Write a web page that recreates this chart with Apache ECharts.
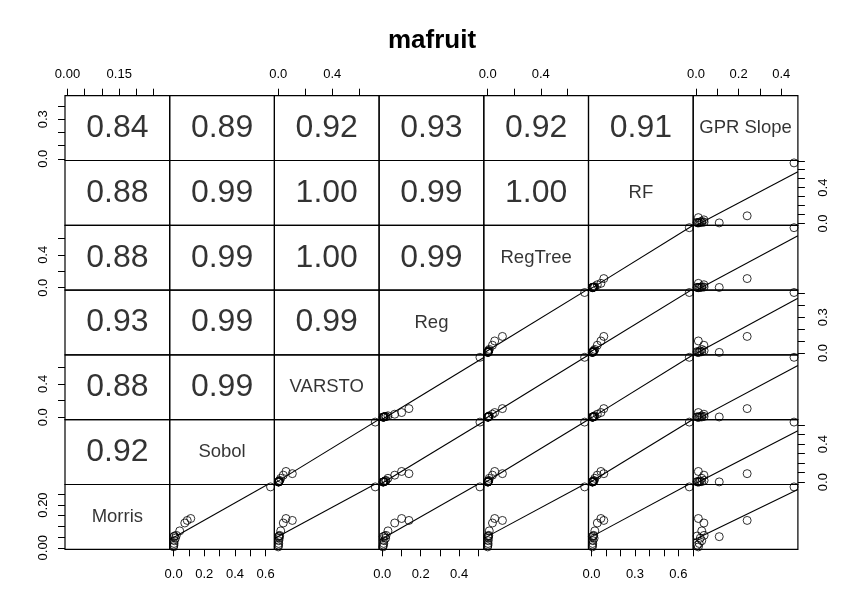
<!DOCTYPE html>
<html><head><meta charset="utf-8">
<script src="https://cdn.jsdelivr.net/npm/echarts@6/dist/echarts.min.js"></script>
<style>html,body{margin:0;padding:0;background:#fff}#c{width:864px;height:615px}</style>
</head><body><div id="c"></div>
<script>
// ---- data ----
const varNames = ['Morris', 'Sobol', 'VARSTO', 'Reg', 'RegTree', 'RF', 'GPR Slope'];
const morris  = [0.285, 0.128, 0.052, 0.137, 0.116, 0.079, 0.058, 0.055, 0.033, 0.004, 0.045, 0.020, 0.012];
const sobol   = [0.632, 0.089, 0.002, 0.112, 0.073, 0.040, 0.018, 0.006, 0.005, 0.000, 0.012, 0.003, 0.002];
const varsto  = [0.718, 0.104, 0.004, 0.057, 0.037, 0.018, 0.010, 0.006, 0.004, 0.000, 0.008, 0.003, 0.002];
const reg     = [0.508, 0.139, 0.005, 0.101, 0.065, 0.030, 0.020, 0.012, 0.010, 0.004, 0.018, 0.008, 0.006];
const regtree = [0.730, 0.111, 0.003, 0.053, 0.036, 0.012, 0.008, 0.005, 0.004, 0.000, 0.006, 0.003, 0.002];
const rf      = [0.676, 0.085, 0.006, 0.065, 0.040, 0.023, 0.015, 0.012, 0.010, 0.006, 0.018, 0.008, 0.007];
const gpr     = [0.460, 0.240, 0.109, 0.011, 0.037, 0.027, 0.038, 0.005, 0.027, 0.011, 0.020, 0.015, 0.006];

// correlation text, row r (top to bottom), columns 0..5-r
const corrRow0 = ['0.84', '0.89', '0.92', '0.93', '0.92', '0.91'];
const corrRow1 = ['0.88', '0.99', '1.00', '0.99', '1.00'];
const corrRow2 = ['0.88', '0.99', '1.00', '0.99'];
const corrRow3 = ['0.93', '0.99', '0.99'];
const corrRow4 = ['0.88', '0.99'];
const corrRow5 = ['0.92'];

// tick values per variable
const ticksMorris  = [0, 0.05, 0.10, 0.15, 0.20, 0.25];
const ticksSobol   = [0, 0.1, 0.2, 0.3, 0.4, 0.5, 0.6];
const ticksVarsto  = [0, 0.2, 0.4, 0.6];
const ticksReg     = [0, 0.1, 0.2, 0.3, 0.4, 0.5];
const ticksRegTree = [0, 0.2, 0.4, 0.6];
const ticksRF      = [0, 0.1, 0.2, 0.3, 0.4, 0.5, 0.6, 0.7];
const ticksGPR     = [0, 0.1, 0.2, 0.3, 0.4];
// labelled ticks on horizontal (top/bottom) axes
const xLabMorris = [0, 0.15], xLabSobol = [0, 0.2, 0.4, 0.6], xLabVarsto = [0, 0.4],
      xLabReg = [0, 0.2, 0.4], xLabRegTree = [0, 0.4], xLabRF = [0, 0.3, 0.6], xLabGPR = [0, 0.2, 0.4];
// labelled ticks on vertical (left/right) axes
const yLabMorris = [0, 0.20], yLabSobol = [0, 0.4], yLabVarsto = [0, 0.4],
      yLabReg = [0, 0.3], yLabRegTree = [0, 0.4], yLabRF = [0, 0.4], yLabGPR = [0, 0.3];
const labelDecimals = [2, 1, 1, 1, 1, 1, 1];

// ---- assembly ----
const vars = [morris, sobol, varsto, reg, regtree, rf, gpr];
const ticks = [ticksMorris, ticksSobol, ticksVarsto, ticksReg, ticksRegTree, ticksRF, ticksGPR];
const xLabs = [xLabMorris, xLabSobol, xLabVarsto, xLabReg, xLabRegTree, xLabRF, xLabGPR];
const yLabs = [yLabMorris, yLabSobol, yLabVarsto, yLabReg, yLabRegTree, yLabRF, yLabGPR];
const corr = [corrRow0, corrRow1, corrRow2, corrRow3, corrRow4, corrRow5];

const N = 7;
const L0 = 65, T0 = 95.7, CW = 104.7, CH = 64.8;
const FONT = '"Liberation Sans", Arial, Helvetica, sans-serif';

const ranges = vars.map(v => {
  const mn = Math.min(...v), mx = Math.max(...v), d = mx - mn;
  return [mn - 0.04 * d, mx + 0.04 * d];
});

function lm(x, y) {
  const n = x.length;
  const mx = x.reduce((a, b) => a + b, 0) / n, my = y.reduce((a, b) => a + b, 0) / n;
  let sxy = 0, sxx = 0;
  for (let i = 0; i < n; i++) { sxy += (x[i] - mx) * (y[i] - my); sxx += (x[i] - mx) ** 2; }
  const b = sxy / sxx;
  return [my - b * mx, b];
}

const grids = [], xAxes = [], yAxes = [], series = [];
let gi = 0;
for (let r = 0; r < N; r++) {
  for (let c = 0; c < N; c++) {
    const xv = c, yv = N - 1 - r;
    grids.push({
      left: L0 + c * CW, top: T0 + r * CH, width: CW, height: CH,
      show: true, borderColor: '#000', borderWidth: 1.2, backgroundColor: 'transparent'
    });
    const showX = (r === 0 && c % 2 === 0) || (r === N - 1 && c % 2 === 1);
    const showY = (c === 0 && r % 2 === 0) || (c === N - 1 && r % 2 === 1);
    const decX = labelDecimals[xv], decY = labelDecimals[yv];
    xAxes.push({
      gridIndex: gi, type: 'value', min: ranges[xv][0], max: ranges[xv][1],
      position: r === 0 ? 'top' : 'bottom', show: showX,
      axisLine: { show: false, onZero: false }, splitLine: { show: false },
      axisTick: { show: true, inside: false, length: 7, customValues: ticks[xv], lineStyle: { color: '#000', width: 1 } },
      axisLabel: { show: true, customValues: xLabs[xv], margin: r === 0 ? 15 : 19, color: '#000',
        fontSize: 13, fontFamily: FONT, formatter: v => Number(v).toFixed(decX) }
    });
    yAxes.push({
      gridIndex: gi, type: 'value', min: ranges[yv][0], max: ranges[yv][1],
      position: c === 0 ? 'left' : 'right', show: showY,
      axisLine: { show: false, onZero: false }, splitLine: { show: false },
      axisTick: { show: true, inside: false, length: 7, customValues: ticks[yv], lineStyle: { color: '#000', width: 1 } },
      axisLabel: { show: true, customValues: yLabs[yv], rotate: 90, margin: c === 0 ? 15 : 19, color: '#000',
        fontSize: 13, fontFamily: FONT, formatter: v => Number(v).toFixed(decY) }
    });
    const xmid = (ranges[xv][0] + ranges[xv][1]) / 2, ymid = (ranges[yv][0] + ranges[yv][1]) / 2;
    if (r + c <= N - 2) {
      series.push({
        type: 'scatter', xAxisIndex: gi, yAxisIndex: gi, silent: true,
        data: [[xmid, ymid]], symbol: 'circle', symbolSize: 1,
        itemStyle: { color: 'rgba(0,0,0,0)' },
        label: { show: true, position: 'inside', formatter: corr[r][c], color: '#000', fontSize: 32, fontFamily: FONT }
      });
    } else if (r + c === N - 1) {
      series.push({
        type: 'scatter', xAxisIndex: gi, yAxisIndex: gi, silent: true,
        data: [[xmid, ymid]], symbol: 'circle', symbolSize: 1,
        itemStyle: { color: 'rgba(0,0,0,0)' },
        label: { show: true, position: 'inside', formatter: varNames[c], color: '#000', fontSize: 18.5, fontFamily: FONT }
      });
    } else {
      const xs = vars[xv], ys = vars[yv];
      series.push({
        type: 'scatter', xAxisIndex: gi, yAxisIndex: gi, silent: true,
        data: xs.map((x, i) => [x, ys[i]]), symbol: 'circle', symbolSize: 8,
        itemStyle: { color: 'rgba(0,0,0,0)', borderColor: '#000', borderWidth: 1 }
      });
      const [a, b] = lm(xs, ys);
      const x0 = ranges[xv][0], x1 = ranges[xv][1];
      series.push({
        type: 'line', xAxisIndex: gi, yAxisIndex: gi, silent: true, clip: true,
        data: [[x0, a + b * x0], [x1, a + b * x1]], symbol: 'none',
        lineStyle: { color: '#000', width: 1.1 }
      });
    }
    gi++;
  }
}

const chart = echarts.init(document.getElementById('c'), null, { renderer: 'canvas' });
chart.setOption({
  animation: false,
  backgroundColor: '#fff',
  title: { text: 'mafruit', left: 'center', top: 23,
    textStyle: { fontSize: 26, fontWeight: 'bold', color: '#000', fontFamily: FONT } },
  grid: grids, xAxis: xAxes, yAxis: yAxes, series: series
});
</script>
</body></html>
